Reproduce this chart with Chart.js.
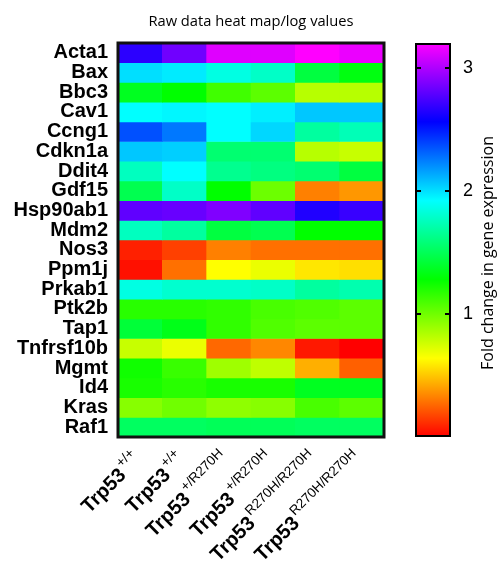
<!DOCTYPE html>
<html><head><meta charset="utf-8">
<script src="https://cdn.jsdelivr.net/npm/chart.js@4.4.1/dist/chart.umd.min.js"></script>
<style>
html,body{margin:0;padding:0;background:#fff;}
#wrap{position:relative;width:504px;height:563px;}
canvas{position:absolute;left:0;top:0;}
</style></head><body>
<div id="wrap"><canvas id="hm" width="504" height="563" style="width:504px;height:563px"></canvas><canvas id="cb" width="504" height="563" style="width:504px;height:563px"></canvas></div>
<script>
const genes = ['Acta1','Bax','Bbc3','Cav1','Ccng1','Cdkn1a','Ddit4','Gdf15','Hsp90ab1','Mdm2','Nos3','Ppm1j','Prkab1','Ptk2b','Tap1','Tnfrsf10b','Mgmt','Id4','Kras','Raf1'];
const genotypeBase = 'Trp53';
const genotypeSup = ['+/+','+/+','+/R270H','+/R270H','R270H/R270H','R270H/R270H'];
const wt1  = [2.67,2.00,1.36,1.92,2.36,2.06,1.76,1.48,2.80,1.76,0.08,0.04,1.85,1.18,1.42,0.78,1.24,1.22,0.94,1.52];
const wt2  = [2.84,1.97,1.28,1.94,2.26,2.04,1.92,1.78,2.82,1.68,0.16,0.28,1.80,1.18,1.34,0.69,1.14,1.18,1.00,1.52];
const het1 = [3.12,1.85,1.12,1.92,1.92,1.56,1.64,1.28,2.88,1.44,0.32,0.64,1.80,1.16,1.16,0.26,0.88,1.22,0.92,1.50];
const het2 = [3.12,1.78,1.05,1.96,2.02,1.56,1.60,1.01,2.80,1.48,0.28,0.69,1.78,1.10,1.08,0.34,0.80,1.22,0.94,1.50];
const mut1 = [3.20,1.44,0.82,2.06,1.68,0.82,1.56,0.32,2.64,1.28,0.28,0.58,1.68,1.08,1.05,0.06,0.44,1.36,1.10,1.52];
const mut2 = [3.15,1.32,0.82,2.06,1.74,0.78,1.44,0.38,2.70,1.28,0.28,0.56,1.72,1.05,1.05,0.00,0.24,1.36,1.05,1.52];
const columns = [wt1, wt2, het1, het2, mut1, mut2];
const colorMin = 0, colorMax = 3.2;
const colorTicks = [1, 2, 3];
const hueStops = [0, 60, 120, 180, 240, 300];

function valueColor(v){
  const t = Math.max(0, Math.min(1, (v - colorMin) / (colorMax - colorMin)));
  return 'hsl(' + (t * 300) + ',100%,50%)';
}

const datasets = genes.map((g, r) => ({
  label: g,
  data: columns.map(() => 1),
  backgroundColor: columns.map(col => valueColor(col[r])),
  borderWidth: 0,
  barPercentage: 1,
  categoryPercentage: 1
}));

const hmDecor = {
  id: 'hmDecor',
  afterDatasetsDraw(chart){
    const {ctx, chartArea: a} = chart;
    ctx.save();
    ctx.strokeStyle = '#111';
    ctx.lineWidth = 3;
    ctx.strokeRect(a.left, a.top, a.right - a.left, a.bottom - a.top);
    ctx.restore();
  },
  afterDraw(chart){
    const {ctx, chartArea: a} = chart;
    const xs = chart.scales.x;
    ctx.save();
    ctx.fillStyle = '#000';
    genotypeSup.forEach((sup, i) => {
      const px = xs.getPixelForValue(i) + 2;
      const py = a.bottom + 24;
      ctx.save();
      ctx.translate(px, py);
      ctx.rotate(-Math.PI / 4);
      ctx.textBaseline = 'alphabetic';
      ctx.textAlign = 'right';
      ctx.font = '13.5px "Liberation Sans", Arial, sans-serif';
      const ws = ctx.measureText(sup).width;
      ctx.fillText(sup, 0, -10);
      ctx.font = 'bold 20px "Liberation Sans", Arial, sans-serif';
      ctx.fillText(genotypeBase, -ws - 2, 0);
      ctx.restore();
    });
    ctx.restore();
  }
};

new Chart(document.getElementById('hm'), {
  type: 'bar',
  data: { labels: genotypeSup, datasets },
  options: {
    responsive: false,
    animation: false,
    layout: { padding: { left: 0, right: 120, top: 0, bottom: 126 } },
    plugins: {
      legend: { display: false },
      tooltip: { enabled: false },
      title: {
        display: true, text: 'Raw data heat map/log values', fullSize: false,
        color: '#000', font: { family: 'Open Sans', size: 14.7, weight: 'normal', lineHeight: 1.2 },
        padding: { top: 13, bottom: 12.36 }
      }
    },
    scales: {
      x: { stacked: true, display: false },
      y: { stacked: true, display: false, min: 0, max: genes.length, reverse: true },
      yg: {
        type: 'category', labels: genes, position: 'left', offset: true,
        grid: { display: false, drawTicks: false }, border: { display: false },
        ticks: { color: '#000', autoSkip: false, padding: 10,
          font: { family: 'Liberation Sans', size: 20, weight: 'bold' } },
        afterFit(s){ s.width = 118; }
      }
    }
  },
  plugins: [hmDecor]
});

const cbDecor = {
  id: 'cbDecor',
  afterDatasetsDraw(chart){
    const {ctx, chartArea: a} = chart;
    const ys = chart.scales.y;
    ctx.save();
    ctx.strokeStyle = '#000';
    ctx.lineWidth = 2;
    colorTicks.forEach(v => {
      const y = Math.round(ys.getPixelForValue(v));
      ctx.beginPath();
      ctx.moveTo(a.left, y); ctx.lineTo(a.left + 6, y);
      ctx.moveTo(a.right - 6, y); ctx.lineTo(a.right, y);
      ctx.stroke();
    });
    ctx.translate(488, 253);
    ctx.rotate(-Math.PI / 2);
    ctx.fillStyle = '#000';
    ctx.font = '16px "Open Sans"';
    ctx.textAlign = 'center';
    ctx.textBaseline = 'middle';
    ctx.fillText('Fold change in gene expression', 0, 0);
    ctx.restore();
  }
};

new Chart(document.getElementById('cb'), {
  type: 'bar',
  data: {
    labels: ['scale'],
    datasets: [{
      data: [[colorMin, colorMax]],
      backgroundColor(c){
        const chart = c.chart;
        if (!chart.chartArea) return '#888';
        const ys = chart.scales.y;
        const g = chart.ctx.createLinearGradient(0, ys.getPixelForValue(colorMin), 0, ys.getPixelForValue(colorMax));
        hueStops.forEach(h => g.addColorStop(h / 300, 'hsl(' + h + ',100%,50%)'));
        return g;
      },
      borderColor: '#000', borderWidth: 2, borderSkipped: false,
      barPercentage: 1, categoryPercentage: 1, inflateAmount: 0
    }]
  },
  options: {
    responsive: false,
    animation: false,
    layout: { padding: { left: 415, top: 43, bottom: 126, right: 0 } },
    plugins: { legend: { display: false }, tooltip: { enabled: false } },
    scales: {
      x: { display: false },
      y: {
        position: 'right', min: colorMin, max: colorMax,
        grid: { display: false, drawTicks: false }, border: { display: false },
        afterBuildTicks(s){ s.ticks = colorTicks.map(v => ({ value: v })); },
        ticks: { color: '#000', padding: 12, font: { family: 'Liberation Sans', size: 18 } },
        afterFit(s){ s.width = 53; }
      }
    }
  },
  plugins: [cbDecor]
});
</script>
</body></html>
